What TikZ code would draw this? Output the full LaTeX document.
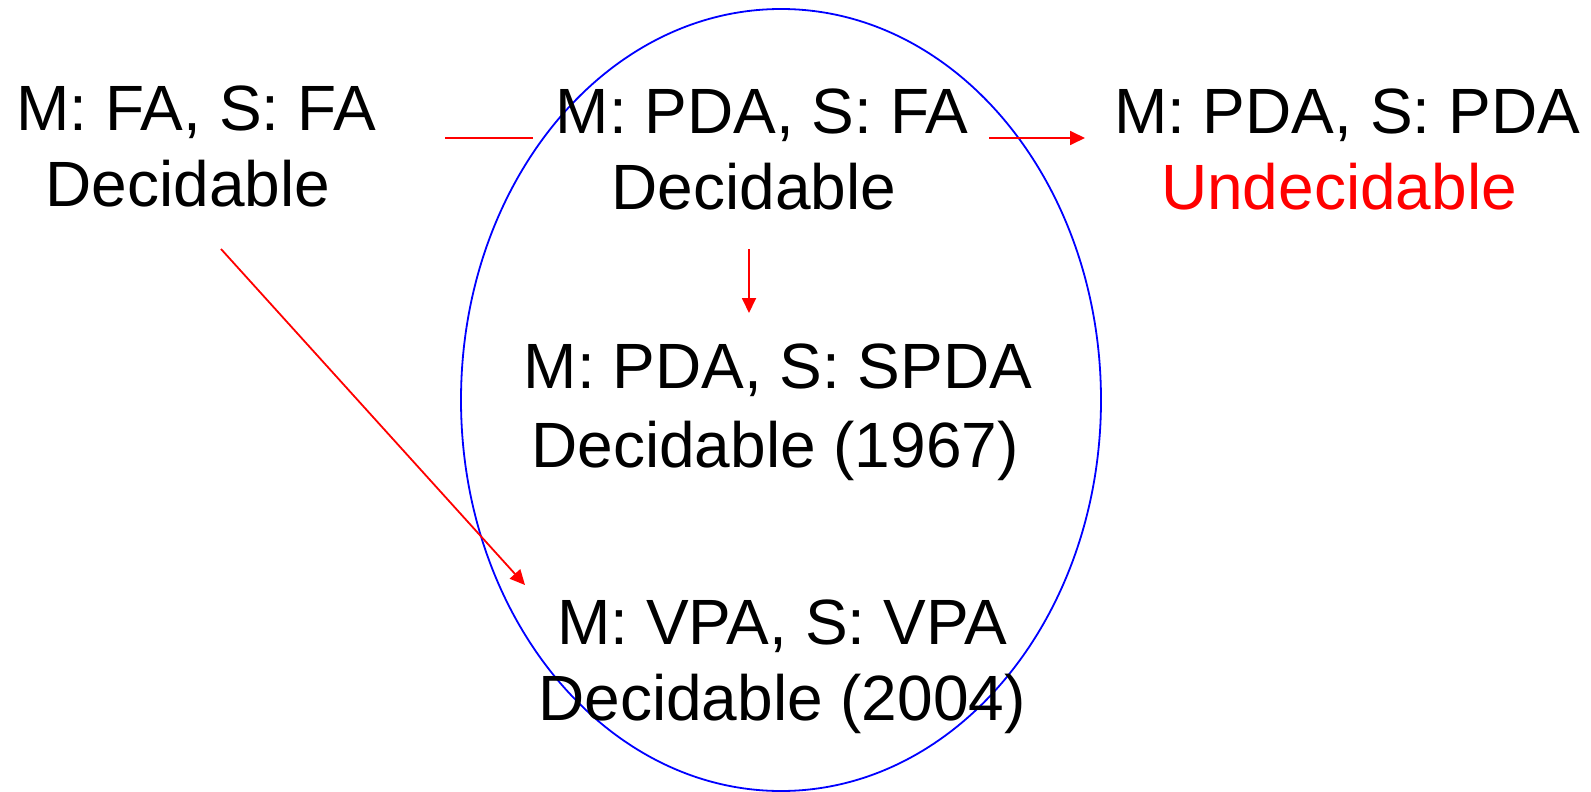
\documentclass[tikz,border=0pt]{standalone}
\usepackage{fontspec}
\setmainfont{Liberation Sans}
\usetikzlibrary{arrows.meta,calc}
\definecolor{pure red}{RGB}{255,0,0}
\definecolor{pure blue}{RGB}{0,0,255}
\newcommand{\tailgap}{\hspace*{16pt}}
\tikzset{
  label text/.style={align=center, anchor=base, inner sep=0pt,
    font=\fontsize{64}{76}\selectfont},
  link/.style={draw=pure red, line width=1.8pt},
  arrowlink/.style={link, -{Triangle[length=15pt,width=14pt]}},
}
\begin{document}
\begin{tikzpicture}[x=1pt, y=-1pt]
\useasboundingbox (0,0) rectangle (1591,792);

% the region of decidable problems
\draw[pure blue, line width=1.8pt] (781,400) ellipse [x radius=320pt, y radius=391pt];

% model / specification combinations (base = baseline of the last line)
\node[label text] (fafa)   at (196,206) {M: FA, S: FA\\Decidable\tailgap};
\node[label text] (pdafa)  at (762,209) {M: PDA, S: FA\\Decidable\tailgap};
\node[label text] (pdapda) at (1347,209) {M: PDA, S: PDA\\\textcolor{pure red}{Undecidable}\tailgap};
\node[label text] (spda)   at (778,467) {M: PDA, S: SPDA\\[3pt]Decidable (1967)\hspace*{6pt}};
\node[label text] (vpa)    at (782,720) {M: VPA, S: VPA\\Decidable (2004)};

% generalisations
\draw[link] ($(fafa.base)+(249,-68)$) -- ($(pdafa.base)+(-229,-71)$);
\draw[arrowlink] ($(pdafa.base)+(227,-71)$) -- ($(pdapda.base)+(-262,-71)$);
\draw[arrowlink] ($(pdafa.base)+(-13,40)$) -- ($(spda.base)+(-29,-154)$);
\draw[arrowlink] ($(fafa.base)+(25,43)$) -- ($(vpa.base)+(-257,-135)$);
\end{tikzpicture}
\end{document}
